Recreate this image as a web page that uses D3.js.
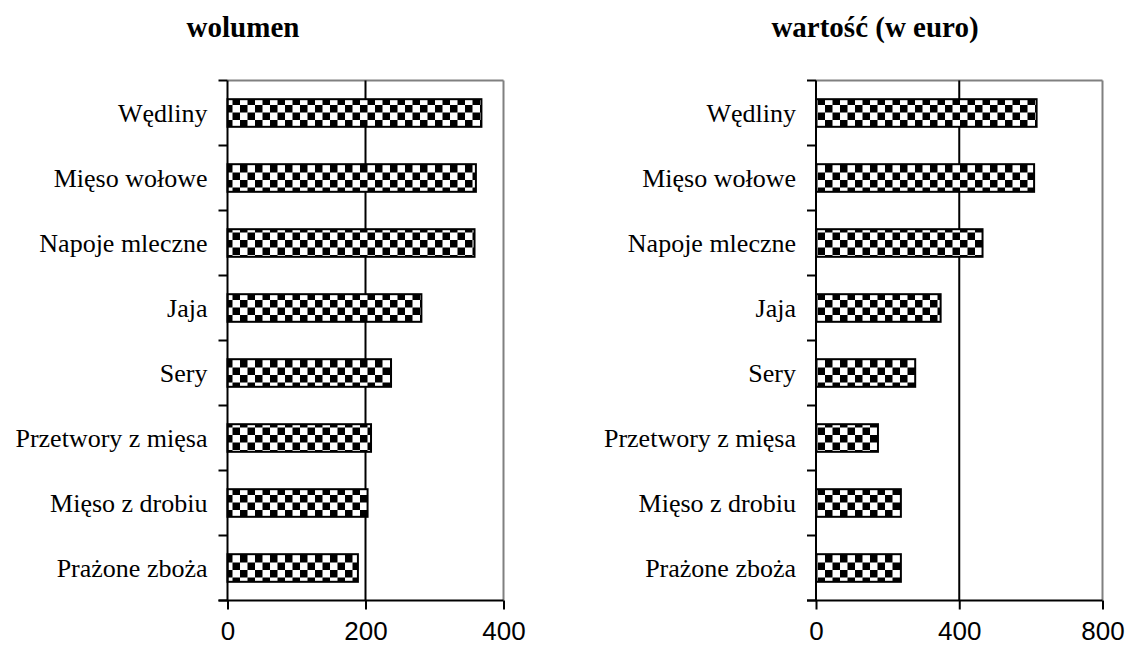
<!DOCTYPE html>
<html><head><meta charset="utf-8">
<script src="https://cdn.jsdelivr.net/npm/d3@7"></script>
<style>body{margin:0;background:#fff}svg{display:block}</style>
</head><body>
<svg id="c" width="1127" height="648"></svg>
<script>
const categories = ["Wędliny","Mięso wołowe","Napoje mleczne","Jaja","Sery","Przetwory z mięsa","Mięso z drobiu","Prażone zboża"];
const volumeValues = [368, 360, 358, 281, 237, 208, 203, 189];
const valueValues  = [616, 609, 465, 348, 277, 173, 237, 237];
const volumeTicks = [0, 200, 400];
const valueTicks  = [0, 400, 800];
const titles = ["wolumen", "wartość (w euro)"];

const svg = d3.select("#c");
const defs = svg.append("defs");
const cell = 7.5;
const pat = defs.append("pattern").attr("id","checker").attr("patternUnits","userSpaceOnUse")
  .attr("width", cell*2).attr("height", cell*2);
pat.append("rect").attr("width", cell*2).attr("height", cell*2).attr("fill","#fff");
pat.append("rect").attr("x",0).attr("y",0).attr("width",cell).attr("height",cell).attr("fill","#000");
pat.append("rect").attr("x",cell).attr("y",cell).attr("width",cell).attr("height",cell).attr("fill","#000");

function panel(opts){
  const {x0, x1, top, bottom, values, ticks, title, titleX} = opts;
  const g = svg.append("g");
  const x = d3.scaleLinear().domain([0, ticks[ticks.length-1]]).range([x0, x1]);
  const y = d3.scaleBand().domain(categories).range([top, bottom]).paddingInner(0.575).paddingOuter(0.2875);
  // frame (gray top & right)
  g.append("line").attr("x1",x0).attr("x2",x1).attr("y1",top).attr("y2",top).attr("stroke","#808080").attr("stroke-width",2);
  g.append("line").attr("x1",x1).attr("x2",x1).attr("y1",top).attr("y2",bottom).attr("stroke","#808080").attr("stroke-width",2);
  // gridlines (middle)
  g.selectAll("line.grid").data(ticks.slice(1,-1)).join("line").attr("class","grid")
    .attr("x1",d=>x(d)).attr("x2",d=>x(d)).attr("y1",top).attr("y2",bottom)
    .attr("stroke","#000").attr("stroke-width",2);
  // bars
  g.selectAll("rect.bar").data(categories).join("rect").attr("class","bar")
    .attr("x", x(0)).attr("y", d=>y(d))
    .attr("width", (d,i)=>x(values[i])-x(0)).attr("height", y.bandwidth())
    .attr("fill","url(#checker)").attr("stroke","#000").attr("stroke-width",2);
  // x axis
  const xa = g.append("g").attr("transform",`translate(0,${bottom})`)
    .call(d3.axisBottom(x).tickValues(ticks).tickSize(9).tickPadding(12).tickFormat(d3.format("d")));
  xa.select(".domain").remove();
  xa.selectAll(".tick line").attr("stroke","#000").attr("stroke-width",2);
  xa.selectAll("text").attr("font-family","Liberation Sans, Arial, sans-serif").attr("font-size",26).attr("fill","#000");
  g.append("line").attr("x1",x0-9).attr("x2",x1).attr("y1",bottom).attr("y2",bottom).attr("stroke","#000").attr("stroke-width",2);
  // y axis
  const step = y.step();
  const boundaries = d3.range(categories.length+1).map(i=>top + i*step);
  g.selectAll("line.yt").data(boundaries).join("line").attr("class","yt")
    .attr("x1",x0-9).attr("x2",x0).attr("y1",d=>d).attr("y2",d=>d).attr("stroke","#000").attr("stroke-width",2);
  g.append("line").attr("x1",x0).attr("x2",x0).attr("y1",top).attr("y2",bottom).attr("stroke","#000").attr("stroke-width",2);
  g.selectAll("text.cat").data(categories).join("text").attr("class","cat")
    .attr("x", x0-20).attr("y", d=>y(d)+y.bandwidth()/2).attr("dy","0.35em")
    .attr("text-anchor","end").attr("font-family","Liberation Serif, Times New Roman, serif")
    .attr("font-size",26).text(d=>d);
  svg.append("text").attr("x", titleX).attr("y", 37).attr("text-anchor","middle")
    .attr("font-family","Liberation Serif, Times New Roman, serif").attr("font-weight","bold")
    .attr("font-size",29).text(title);
}
panel({x0:227.5, x1:503.5, top:80.5, bottom:600.5, values:volumeValues, ticks:volumeTicks, title:titles[0], titleX:243});
panel({x0:816, x1:1102.5, top:80.5, bottom:600.5, values:valueValues, ticks:valueTicks, title:titles[1], titleX:875});
</script>
</body></html>
